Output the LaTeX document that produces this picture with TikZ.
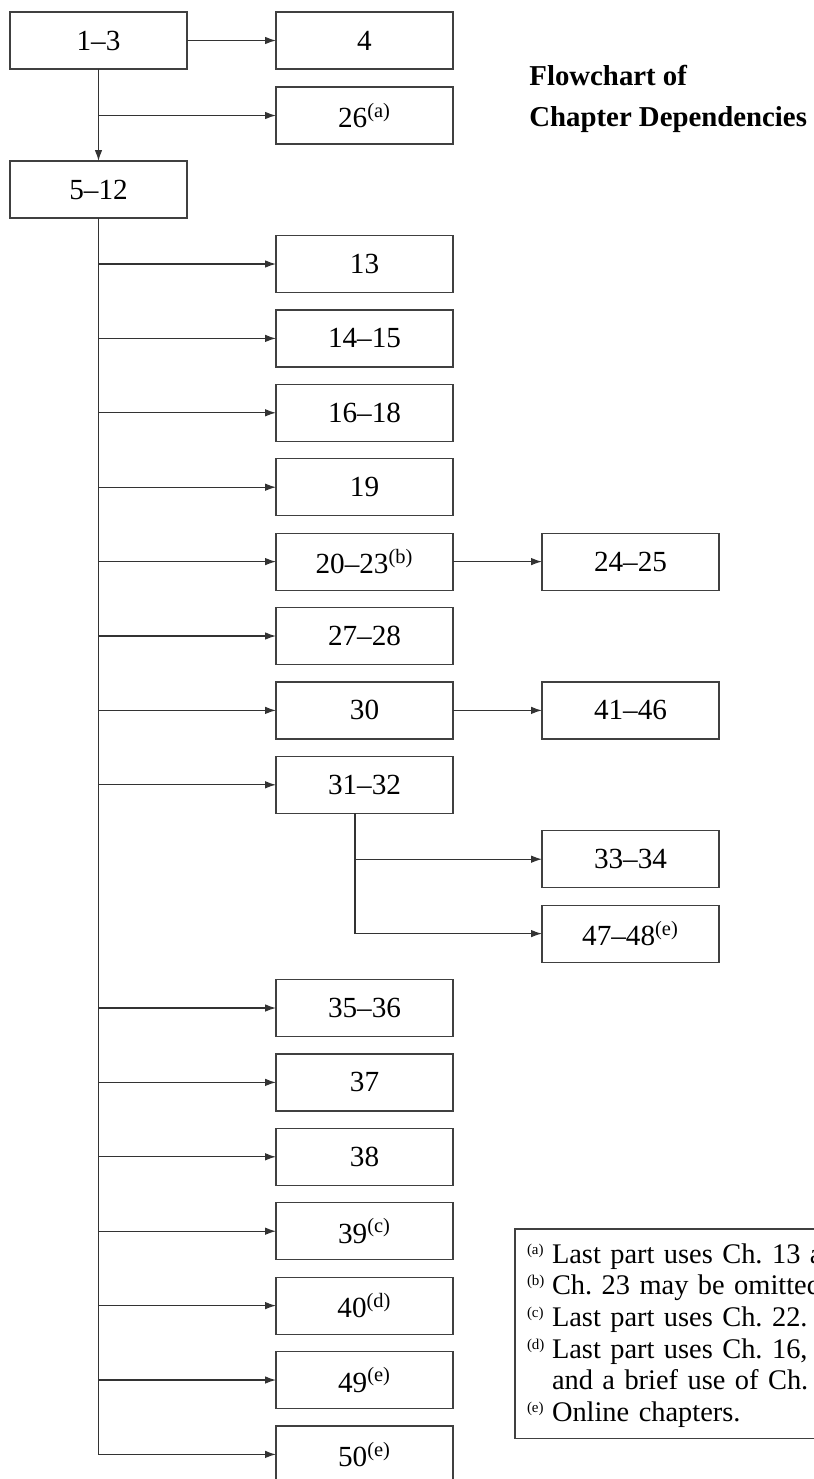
\documentclass[tikz,border=0pt]{standalone}
\usepackage{fontspec}
\setmainfont{Liberation Serif}
\usetikzlibrary{arrows.meta, positioning}
\frenchspacing
\newcommand{\fnmark}[1]{\makebox[12.5pt][l]{\smash{\raisebox{4.5pt}{\fontsize{7.5}{8}\selectfont(#1)}}}}

\begin{document}
\begin{tikzpicture}[
  x=0.5pt, y=-0.5pt,
  font=\fontsize{14.6}{16}\selectfont,
  box/.style={rectangle, draw=black!75, line width=0.6pt, outer sep=0pt,
              minimum width=88.5pt, minimum height=28.5pt, inner sep=0pt},
  arr/.style={-{Latex[length=5.5pt, width=3.8pt]}, line width=0.6pt, draw=black!80},
  ttl/.style={font=\fontsize{14.4}{20.5}\selectfont\bfseries, align=left, inner sep=0pt},
  note/.style={rectangle, draw=black!75, line width=0.6pt, outer sep=0pt,
               font=\fontsize{14.2}{15.85}\selectfont, align=left,
               text width=160pt, inner xsep=6pt, inner ysep=5.5pt},
]
\useasboundingbox (0,0) rectangle (814,1479);
\clip (0,0) rectangle (814,1479);

% top part
\node[box]                          (c13)   at (98.5,40.5) {1--3};
\node[box, right=44.5pt of c13]     (c4)    {4};
\node[box, below=9pt of c4]         (c26)   {26\textsuperscript{(a)}};
\node[box, below=46pt of c13]       (c512)  {5--12};

% column of chapters after 5--12
\node[box]                          (c13b)  at (364.5,264) {13};
\node[box, below=8.7pt of c13b]     (c1415) {14--15};
\node[box, below=8.7pt of c1415]    (c1618) {16--18};
\node[box, below=8.7pt of c1618]    (c19)   {19};
\node[box, below=8.7pt of c19]      (c2023) {20--23\textsuperscript{(b)}};
\node[box, below=8.7pt of c2023]    (c2728) {27--28};
\node[box, below=8.7pt of c2728]    (c30)   {30};
\node[box, below=8.7pt of c30]      (c3132) {31--32};
\node[box, below=83.1pt of c3132]   (c3536) {35--36};
\node[box, below=8.7pt of c3536]    (c37)   {37};
\node[box, below=8.7pt of c37]      (c38)   {38};
\node[box, below=8.7pt of c38]      (c39)   {39\textsuperscript{(c)}};
\node[box, below=8.7pt of c39]      (c40)   {40\textsuperscript{(d)}};
\node[box, below=8.7pt of c40]      (c49)   {49\textsuperscript{(e)}};
\node[box, below=8.7pt of c49]      (c50)   {50\textsuperscript{(e)}};

% third column
\node[box, right=44.5pt of c2023]   (c2425) {24--25};
\node[box, right=44.5pt of c30]     (c4146) {41--46};
\node[box, below right=8.7pt and 44.5pt of c3132] (c3334) {33--34};
\node[box, below=8.7pt of c3334]    (c4748) {47--48\textsuperscript{(e)}};

\node[ttl, anchor=base west] (title) at (529,126) {Flowchart of\\Chapter Dependencies};

\node[note, anchor=north west] (notes) at (515,1229) {%
  \rule{0pt}{11.5pt}\fnmark{a}Last part uses Ch. 13 a\\
  \fnmark{b}Ch. 23 may be omitted\\
  \fnmark{c}Last part uses Ch. 22.\\
  \fnmark{d}Last part uses Ch. 16,\\
  \hspace*{12.5pt}and a brief use of Ch. 3\\
  \fnmark{e}Online chapters.};

\draw[arr] (c13.east)  -- (c4.west);
\draw[arr] (c13.south) |- (c26.west);
\draw[arr] (c13.south) -- (c512.north);

\draw[arr] (c512.south) |- (c13b.west);
\draw[arr] (c512.south) |- (c1415.west);
\draw[arr] (c512.south) |- (c1618.west);
\draw[arr] (c512.south) |- (c19.west);
\draw[arr] (c512.south) |- (c2023.west);
\draw[arr] (c512.south) |- (c2728.west);
\draw[arr] (c512.south) |- (c30.west);
\draw[arr] (c512.south) |- (c3132.west);
\draw[arr] (c512.south) |- (c3536.west);
\draw[arr] (c512.south) |- (c37.west);
\draw[arr] (c512.south) |- (c38.west);
\draw[arr] (c512.south) |- (c39.west);
\draw[arr] (c512.south) |- (c40.west);
\draw[arr] (c512.south) |- (c49.west);
\draw[arr] (c512.south) |- (c50.west);

\draw[arr] (c2023.east) -- (c2425.west);
\draw[arr] (c30.east)   -- (c4146.west);

\coordinate (split) at ([xshift=-4.75pt]c3132.south);
\draw[arr] (split) |- (c3334.west);
\draw[arr] (split) |- (c4748.west);

\end{tikzpicture}
\end{document}
